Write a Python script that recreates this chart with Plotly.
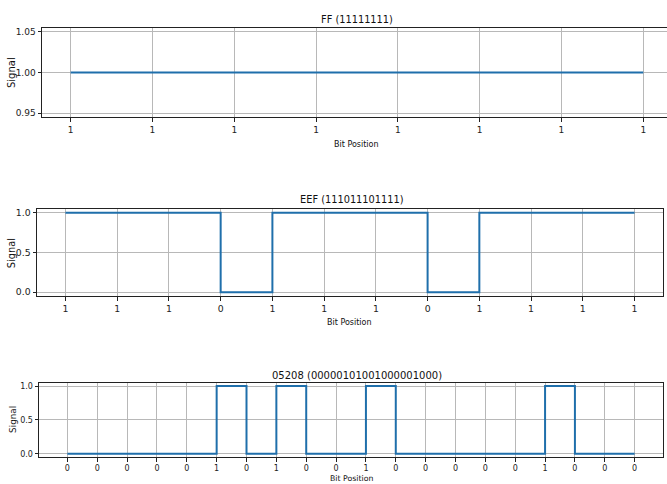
import plotly.graph_objects as go

W, H = 667, 484

# ---- data ----
ff_label = "FF"
ff_bits = [1, 1, 1, 1, 1, 1, 1, 1]
eef_label = "EEF"
eef_bits = [1, 1, 1, 0, 1, 1, 1, 0, 1, 1, 1, 1]
n05208_label = "05208"
n05208_bits = [0, 0, 0, 0, 0, 1, 0, 1, 0, 0, 1, 0, 0, 0, 0, 0, 1, 0, 0, 0]

y_ticks_ff = [0.95, 1.00, 1.05]
y_ticktext_ff = ["0.95", "1.00", "1.05"]
y_ticks_bin = [0.0, 0.5, 1.0]
y_ticktext_bin = ["0.0", "0.5", "1.0"]

series = [
    (ff_label, ff_bits),
    (eef_label, eef_bits),
    (n05208_label, n05208_bits),
]

# ---- layout geometry (pixels) ----
panels = [
    dict(l=42, r=667, t=26, b=116, xr=[-0.35, 7.29], yr=[0.945, 1.055],
         yt=y_ticks_ff, ytt=y_ticktext_ff, tick_fs=9, mirror_y=False,
         title_xy=(357, 17.5), title_fs=9.8, xt_xy=(356, 143), xt_fs=8,
         yt_xy=(11.5, 71), yt_fs=10),
    dict(l=37, r=663, t=208, b=296, xr=[-0.55, 11.55], yr=[-0.05, 1.05],
         yt=y_ticks_bin, ytt=y_ticktext_bin, tick_fs=9.3, mirror_y=True,
         title_xy=(352, 198.5), title_fs=9.8, xt_xy=(350, 323), xt_fs=8,
         yt_xy=(11.7, 253), yt_fs=9.8),
    dict(l=39, r=663, t=383, b=458, xr=[-0.95, 19.95], yr=[-0.05, 1.05],
         yt=y_ticks_bin, ytt=y_ticktext_bin, tick_fs=8, mirror_y=True,
         title_xy=(357, 376), title_fs=10, xt_xy=(351, 479.5), xt_fs=7.8,
         yt_xy=(13.5, 420), yt_fs=8.8),
]

fig = go.Figure()
annotations = []
FONT = "DejaVu Sans"
LINE_COLOR = "#1f6fab"

for i, ((name, bits), p) in enumerate(zip(series, panels), start=1):
    xs = list(range(len(bits)))
    sfx = "" if i == 1 else str(i)
    fig.add_trace(go.Scatter(
        x=xs, y=bits, mode="lines", line=dict(shape="hv", color=LINE_COLOR, width=2),
        xaxis="x" + sfx, yaxis="y" + sfx, showlegend=False,
        cliponaxis=False,
    ))
    xdom = [p["l"] / W, min(p["r"] / W, 1.0)]
    ydom = [1 - p["b"] / H, 1 - p["t"] / H]
    fig.layout["xaxis" + sfx] = dict(
        domain=xdom, range=p["xr"], anchor="y" + sfx,
        tickmode="array", tickvals=xs, ticktext=[str(b) for b in bits],
        showgrid=True, gridcolor="#b8b8b8", gridwidth=0.8,
        showline=True, linecolor="#222222", linewidth=1, mirror=True,
        ticks="outside", ticklen=3.5, tickwidth=0.8, tickcolor="#222222",
        tickfont=dict(family=FONT, size=p["tick_fs"], color="#222222"),
        zeroline=False,
    )
    fig.layout["yaxis" + sfx] = dict(
        domain=ydom, range=p["yr"], anchor="x" + sfx,
        tickmode="array", tickvals=p["yt"], ticktext=p["ytt"],
        showgrid=True, gridcolor="#b8b8b8", gridwidth=0.8,
        showline=True, linecolor="#222222", linewidth=1, mirror=p["mirror_y"],
        ticks="outside", ticklen=3.5, tickwidth=0.8, tickcolor="#222222",
        tickfont=dict(family=FONT, size=p["tick_fs"], color="#222222"),
        zeroline=False,
    )
    title = f"{name} ({''.join(str(b) for b in bits)})"
    annotations.append(dict(text=title, x=p["title_xy"][0] / W, y=1 - p["title_xy"][1] / H,
                            xref="paper", yref="paper", showarrow=False,
                            xanchor="center", yanchor="middle",
                            font=dict(family=FONT, size=p["title_fs"], color="#111111")))
    annotations.append(dict(text="Bit Position", x=p["xt_xy"][0] / W, y=1 - p["xt_xy"][1] / H,
                            xref="paper", yref="paper", showarrow=False,
                            xanchor="center", yanchor="middle",
                            font=dict(family=FONT, size=p["xt_fs"], color="#111111")))
    annotations.append(dict(text="Signal", x=p["yt_xy"][0] / W, y=1 - p["yt_xy"][1] / H,
                            xref="paper", yref="paper", showarrow=False, textangle=-90,
                            xanchor="center", yanchor="middle",
                            font=dict(family=FONT, size=p["yt_fs"], color="#111111")))

fig.update_layout(
    width=W, height=H,
    margin=dict(l=0, r=0, t=0, b=0),
    paper_bgcolor="white", plot_bgcolor="white",
    annotations=annotations,
    showlegend=False,
)

fig.write_html(
    "out.html",
    config={"displayModeBar": False},
    post_script="document.body.style.margin='0';document.body.style.padding='0';document.body.style.overflow='hidden';",
)
